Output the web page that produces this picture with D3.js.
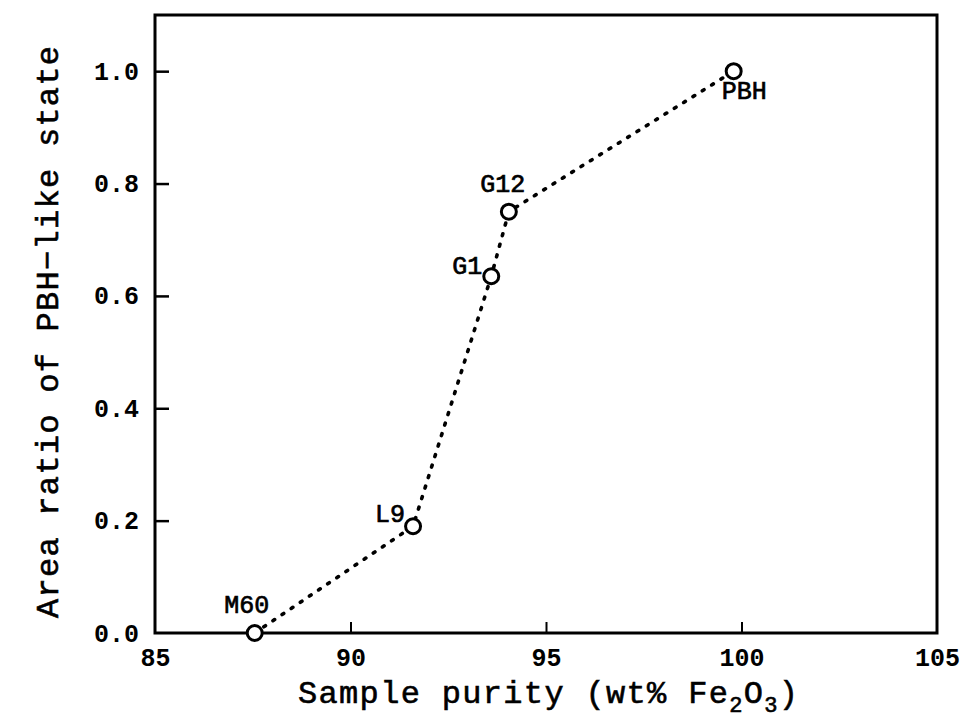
<!DOCTYPE html>
<html>
<head>
<meta charset="utf-8">
<script src="https://cdn.jsdelivr.net/npm/d3@7/dist/d3.min.js"></script>
<style>
  html, body { margin: 0; padding: 0; background: #fff; }
  svg { display: block; }
  text { font-family: "Liberation Mono", "DejaVu Sans Mono", monospace; fill: #000; }
</style>
</head>
<body>
<svg id="chart" width="969" height="725"></svg>
<script>
// Sample names, purity (wt% Fe2O3) and area ratio of the PBH-like state
const samples = ["M60", "L9", "G1", "G12", "PBH"];
const purity = [87.55, 91.6, 93.6, 94.05, 99.8];
const areaRatio = [0.0, 0.19, 0.635, 0.75, 1.0];

const xTicks = [85, 90, 95, 100, 105];
const yTicks = [0.0, 0.2, 0.4, 0.6, 0.8, 1.0];

// label placement relative to each marker [dx, dy, anchor]
const labelPos = {
  M60: [-8, -20, "middle"],
  L9:  [-8, -4, "end"],
  G1:  [-9, -2, "end"],
  G12: [-6, -20, "middle"],
  PBH: [-12, 28, "start"]
};

const margin = { left: 155, right: 32, top: 15, bottom: 92 };
const W = 969, H = 725;
const svg = d3.select("#chart");

const x = d3.scaleLinear().domain([85, 105]).range([margin.left, W - margin.right]);
const y = d3.scaleLinear().domain([0, 1.1]).range([H - margin.bottom, margin.top]);

// frame
svg.append("rect")
  .attr("x", x(85)).attr("y", y(1.1))
  .attr("width", x(105) - x(85)).attr("height", y(0) - y(1.1))
  .attr("fill", "none").attr("stroke", "#000").attr("stroke-width", 3);

// bottom axis with inward ticks
const xAxis = svg.append("g")
  .attr("transform", `translate(0,${y(0)})`)
  .call(d3.axisBottom(x).tickValues(xTicks).tickFormat(d3.format("d")).tickSize(-11).tickPadding(24));
xAxis.select(".domain").remove();
xAxis.selectAll(".tick line").attr("stroke", "#000").attr("stroke-width", 2)
  .filter(d => d === 85 || d === 105).remove();
xAxis.selectAll(".tick text").attr("font-size", 25).attr("font-weight", "bold").attr("dy", "0.35em");

// left axis with inward ticks
const yAxis = svg.append("g")
  .attr("transform", `translate(${x(85)},0)`)
  .call(d3.axisLeft(y).tickValues(yTicks).tickFormat(d3.format(".1f")).tickSize(-14).tickPadding(16));
yAxis.select(".domain").remove();
yAxis.selectAll(".tick line").attr("stroke", "#000").attr("stroke-width", 2.5)
  .filter(d => d === 0).remove();
yAxis.selectAll(".tick text").attr("font-size", 25).attr("font-weight", "bold");

// axis titles
const xt = svg.append("text")
  .attr("x", 548).attr("y", 703)
  .attr("text-anchor", "middle")
  .attr("font-size", 32)
  .attr("stroke", "#000").attr("stroke-width", 0.6)
  .attr("textLength", 500).attr("lengthAdjust", "spacing");
xt.append("tspan").text("Sample purity (wt% Fe");
xt.append("tspan").attr("font-size", 22).attr("dy", 9).text("2");
xt.append("tspan").attr("dy", -9).text("O");
xt.append("tspan").attr("font-size", 22).attr("dy", 9).text("3");
xt.append("tspan").attr("dy", -9).text(")");

svg.append("text")
  .attr("transform", "translate(58,332) rotate(-90)")
  .attr("text-anchor", "middle")
  .attr("font-size", 32)
  .attr("stroke", "#000").attr("stroke-width", 0.6)
  .attr("textLength", 572).attr("lengthAdjust", "spacing")
  .text("Area ratio of PBH\u2212like state");

// dotted connecting line
const pts = samples.map((s, i) => ({ name: s, px: purity[i], ry: areaRatio[i] }));
svg.append("path")
  .datum(pts)
  .attr("fill", "none")
  .attr("stroke", "#000")
  .attr("stroke-width", 3.6)
  .attr("stroke-linecap", "round")
  .attr("stroke-dasharray", "2 9")
  .attr("d", d3.line().x(d => x(d.px)).y(d => y(d.ry)));

// open circle markers
svg.selectAll("circle.pt")
  .data(pts)
  .join("circle")
  .attr("class", "pt")
  .attr("cx", d => x(d.px)).attr("cy", d => y(d.ry))
  .attr("r", 7.5)
  .attr("fill", "#fff").attr("stroke", "#000").attr("stroke-width", 3);

// sample labels
svg.selectAll("text.lbl")
  .data(pts)
  .join("text")
  .attr("class", "lbl")
  .attr("x", d => x(d.px) + labelPos[d.name][0])
  .attr("y", d => y(d.ry) + labelPos[d.name][1])
  .attr("text-anchor", d => labelPos[d.name][2])
  .attr("font-size", 25)
  .attr("stroke", "#000").attr("stroke-width", 0.7)
  .text(d => d.name);
</script>
</body>
</html>
